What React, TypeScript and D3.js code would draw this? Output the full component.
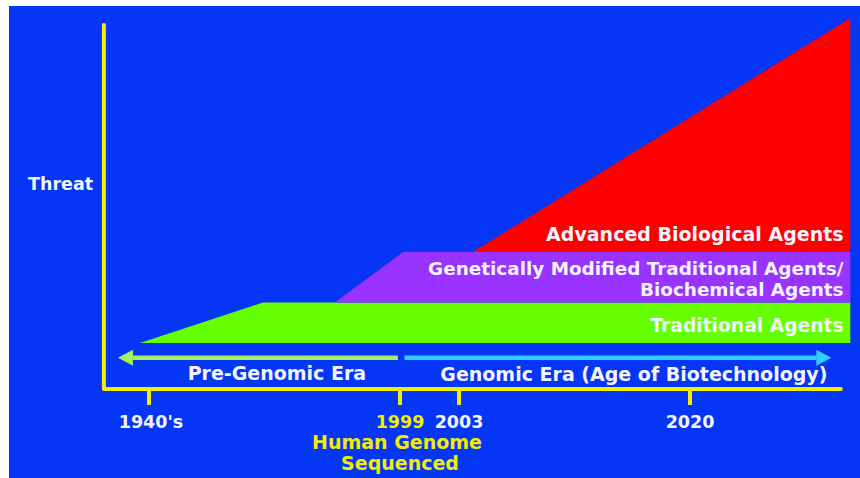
import React from "react";
import { scaleLinear, area } from "d3";

// schematic timeline: years on the x axis, relative threat on the y axis
const tickYears = [1940, 1999, 2003, 2020];
const tickLabels = ["1940's", "1999", "2003", "2020"];
const tickColors = ["#f4f4ff", "#f2ee00", "#f4f4ff", "#f4f4ff"];

const bandNames = ["Traditional Agents", "Genetically Modified Traditional Agents/|Biochemical Agents", "Advanced Biological Agents"];
const bandColors = ["#66ff00", "#9933ff", "#ff0000"];
const bandStart = [1937.9, 1983.7, 2004.0]; // year where the band leaves zero
const bandFull = [1966.8, 1999.2, 2031.8]; // year where the band reaches its full height
const bandBase = [12.4, 23.3, 36.9];
const bandTop = [23.3, 36.9, 100];

const eraNames = ["Pre-Genomic Era", "Genomic Era (Age of Biotechnology)"];
const eraColors = ["#a6f060", "#33ccff"];
const eraFrom = [1998.5, 1999.3];
const eraTo = [1932.7, 2030.4];
const eraLevel = 8.4;

const W = 860;
const H = 478;
const endYear = 2031.8;
const axisStartYear = 1929.4;
const axisEndYear = 2031.1;

export default function App() {
  const x = scaleLinear().domain(tickYears).range([149, 400, 459, 690]);
  const y = scaleLinear().domain([0, 100]).range([389, 18]);

  const bandArea = area<[number, number, number]>()
    .x((d) => x(d[0]))
    .y0((d) => y(d[1]))
    .y1((d) => y(d[2]));

  const font = "'DejaVu Sans', Verdana, sans-serif";
  const labelX = x(2031.3);
  const xAxisY = y(0);
  const ay = y(eraLevel);

  return (
    <div style={{ position: "absolute", left: 0, top: 0 }}>
      <svg width={W} height={H} style={{ display: "block", background: "#fff" }}>
        <rect x={9} y={6} width={W - 9} height={H - 6} fill="#0535f5" />

        {/* bands */}
        {bandNames.map((name, i) => {
          const pts: [number, number, number][] = [
            [bandStart[i], bandBase[i], bandBase[i]],
            [bandFull[i], bandBase[i], bandTop[i]],
            [endYear, bandBase[i], bandTop[i]],
          ];
          return <path key={name} d={bandArea(pts) ?? ""} fill={bandColors[i]} />;
        })}

        {/* band labels */}
        <g fontFamily={font} fontWeight="bold" fontSize={19} fill="#f4f4ff" textAnchor="end">
          <text x={labelX} y={y(bandBase[0]) - 11} fontSize={18.7}>{bandNames[0]}</text>
          {bandNames[1].split("|").map((line, j) => (
            <text key={j} x={labelX} y={y(bandTop[1]) + 23 + j * 20.5} fontSize={18.4}>{line}</text>
          ))}
          <text x={labelX} y={y(bandBase[2]) - 11}>{bandNames[2]}</text>
        </g>

        {/* era arrows */}
        {eraNames.map((name, i) => {
          const x0 = x(eraFrom[i]);
          const x1 = x(eraTo[i]);
          const dir = x1 > x0 ? 1 : -1;
          const headLen = 15;
          const base = x1 - dir * headLen;
          return (
            <g key={name}>
              <line x1={x0} x2={base} y1={ay} y2={ay} stroke={eraColors[i]} strokeWidth={4.5} />
              <path d={`M${x1},${ay} L${base},${ay - 8} L${base},${ay + 8} Z`} fill={eraColors[i]} />
            </g>
          );
        })}
        <g fontFamily={font} fontWeight="bold" fontSize={19} fill="#f4f4ff" textAnchor="middle">
          <text x={(x(eraTo[0]) + x(eraFrom[0])) / 2 + 19} y={ay + 22}>{eraNames[0]}</text>
          <text x={(x(eraFrom[1]) + x(eraTo[1])) / 2 + 16} y={ay + 23}>{eraNames[1]}</text>
        </g>

        {/* axes */}
        <g stroke="#f2ee00" strokeWidth={4} strokeLinecap="round" fill="none">
          <path d={`M${x(axisStartYear)},${y(98.1)} L${x(axisStartYear)},${xAxisY} L${x(axisEndYear)},${xAxisY}`} strokeLinejoin="round" />
          {tickYears.map((t) => (
            <line key={t} x1={x(t)} x2={x(t)} y1={xAxisY} y2={xAxisY + 16} strokeLinecap="butt" />
          ))}
        </g>

        <g fontFamily={font} fontWeight="bold" fontSize={17.5} textAnchor="middle">
          {tickYears.map((t, i) => (
            <text key={t} x={x(t) + (i === 0 ? 2 : 0)} y={xAxisY + 39} fill={tickColors[i]}>
              {tickLabels[i]}
            </text>
          ))}
        </g>
        <g fontFamily={font} fontWeight="bold" fontSize={19} textAnchor="middle" fill="#f2ee00">
          <text x={x(1999) - 3} y={xAxisY + 60}>Human Genome</text>
          <text x={x(1999)} y={xAxisY + 81}>Sequenced</text>
        </g>

        <text x={28} y={190} fontFamily={font} fontWeight="bold" fontSize={17.5} fill="#f4f4ff">
          Threat
        </text>
      </svg>
    </div>
  );
}
